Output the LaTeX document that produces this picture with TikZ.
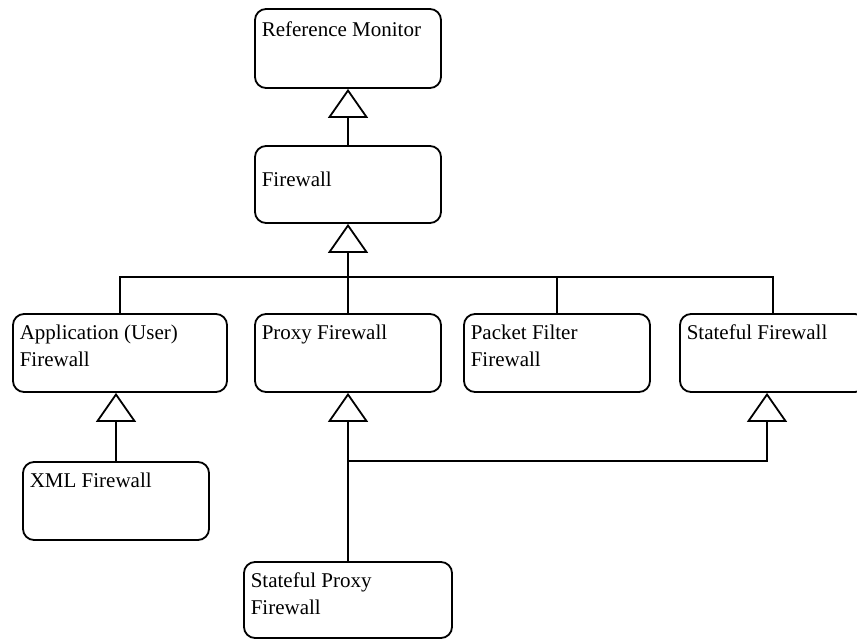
\documentclass[tikz,border=0pt]{standalone}
\usepackage{fontspec}
\setmainfont{Liberation Serif}
\usetikzlibrary{arrows.meta}
\tikzset{
  box/.style={draw, line width=1.8pt, rounded corners=11pt, inner sep=0pt, fill=white},
  txt/.style={anchor=north west, inner sep=0pt, align=left, font=\fontsize{21}{27}\selectfont},
  conn/.style={line width=1.8pt},
  gen/.style={conn, -{Triangle[open, length=29pt, width=40pt, line width=1.8pt]}}
}
\newcommand{\up}{\rule{0pt}{15pt}}
\begin{document}
\begin{tikzpicture}[x=1pt,y=1pt]
\useasboundingbox (0,0) rectangle (857,-639);
\begin{scope}
\clip (0,0) rectangle (857,-639);
% boxes
\node[box, minimum width=186pt, minimum height=79pt] (ref) at (348,-48.5) {};
\node[box, minimum width=186pt, minimum height=77pt] (fw) at (348,-184.5) {};
\node[box, minimum width=214pt, minimum height=78pt] (app) at (120,-353) {};
\node[box, minimum width=186pt, minimum height=78pt] (proxy) at (348,-353) {};
\node[box, minimum width=186pt, minimum height=78pt] (pkt) at (557,-353) {};
\node[box, minimum width=186pt, minimum height=78pt] (sf) at (773,-353) {};
\node[box, minimum width=186pt, minimum height=78pt] (xml) at (116,-501) {};
\node[box, minimum width=208pt, minimum height=76pt] (sp) at (348,-600) {};
% texts
\node[txt] (ref-t) at ([shift={(7.5,-13)}]ref.north west) {\up Reference Monitor};
\node[txt] (fw-t) at ([shift={(7.5,-26)}]fw.north west) {\up Firewall};
\node[txt] (app-t) at ([shift={(7.5,-11)}]app.north west) {\up Application (User)\\Firewall};
\node[txt] (proxy-t) at ([shift={(7.5,-11)}]proxy.north west) {\up Proxy Firewall};
\node[txt] (pkt-t) at ([shift={(7.5,-11)}]pkt.north west) {\up Packet Filter\\Firewall};
\node[txt] (sf-t) at ([shift={(7.5,-11)}]sf.north west) {\up Stateful Firewall};
\node[txt] (xml-t) at ([shift={(7.5,-11)}]xml.north west) {\up XML Firewall};
\node[txt] (sp-t) at ([shift={(7.5,-11)}]sp.north west) {\up Stateful Proxy\\Firewall};
% junctions
\coordinate (jn) at (348,-277);
\coordinate (j2) at (348,-461);
% connectors
\draw[gen] (fw.north) -- (ref.south);
\draw[gen] (jn) -- (fw.south);
\draw[conn] (app.north) -- (app.north |- jn) -- (sf.north |- jn) -- (sf.north);
\draw[conn] (proxy.north) -- (proxy.north |- jn);
\draw[conn] (pkt.north) -- (pkt.north |- jn);
\draw[gen] (xml.north) -- (xml.north |- app.south);
\draw[gen] (sp.north) -- (proxy.south);
\draw[gen] (j2) -| ([xshift=-6pt]sf.south);
\end{scope}
\end{tikzpicture}
\end{document}
